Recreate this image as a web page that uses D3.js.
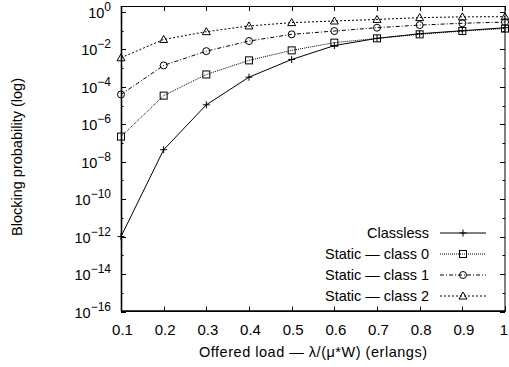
<!DOCTYPE html>
<html>
<head>
<meta charset="utf-8">
<script src="https://cdn.jsdelivr.net/npm/d3@7"></script>
<style>
  body { margin: 0; background: #fff; }
  svg { display: block; font-family: "Liberation Sans", Arial, Helvetica, sans-serif; }
</style>
</head>
<body>
<div id="chart"></div>
<script>
// Blocking probability vs offered load (log scale)

const loads = [0.1, 0.2, 0.3, 0.4, 0.5, 0.6, 0.7, 0.8, 0.9, 1.0];
const classless = [1e-12, 4.4e-8, 1.1e-5, 3.3e-4, 2.9e-3, 0.016, 0.039, 0.069, 0.10, 0.145];
const staticClass0 = [2.2e-7, 3.4e-5, 4.6e-4, 2.6e-3, 8.9e-3, 0.023, 0.039, 0.064, 0.096, 0.13];
const staticClass1 = [3.9e-5, 1.4e-3, 8.1e-3, 0.028, 0.064, 0.096, 0.145, 0.2, 0.25, 0.29];
const staticClass2 = [3.6e-3, 0.034, 0.089, 0.18, 0.27, 0.33, 0.4, 0.5, 0.55, 0.56];
const xTicks = [0.1, 0.2, 0.3, 0.4, 0.5, 0.6, 0.7, 0.8, 0.9, 1];
const yTickExps = [0, -2, -4, -6, -8, -10, -12, -14, -16];

const seriesList = [
    { name: 'Static \u2014 class 0', values: staticClass0, dash: '1,1', marker: 'square' },
    { name: 'Static \u2014 class 1', values: staticClass1, dash: '4,2,1,2', marker: 'circle' },
    { name: 'Static \u2014 class 2', values: staticClass2, dash: '2,2', marker: 'triangle' }
];
seriesList.unshift({ name: 'Classless', values: classless, dash: null, marker: 'plus' });

const W = 509, H = 367;
const margin = { top: 6, right: 4, bottom: 55.5, left: 121 };
const width = W - margin.left - margin.right;
const height = H - margin.top - margin.bottom;

const svg = d3.select('#chart').append('svg')
    .attr('width', W)
    .attr('height', H);

const g = svg.append('g')
    .attr('transform', `translate(${margin.left},${margin.top})`);

const xScale = d3.scaleLinear().domain([0.1, 1]).range([0, width]);
const yScale = d3.scaleLog().domain([1e-16, Math.pow(10, 0.32)]).range([height, 0]);

// Frame
g.append('rect')
    .attr('x', 0.5).attr('y', 0.5)
    .attr('width', width - 0.5).attr('height', height - 0.5)
    .attr('fill', 'none')
    .attr('stroke', '#000')
    .attr('stroke-width', 1);
g.append('line')
    .attr('x1', 0.5).attr('x2', 0.5).attr('y1', 0).attr('y2', height)
    .attr('stroke', '#000').attr('stroke-width', 1.6);
g.append('line')
    .attr('x1', 0).attr('x2', width).attr('y1', height - 0.5).attr('y2', height - 0.5)
    .attr('stroke', '#000').attr('stroke-width', 1.6);

// Ticks (inward, mirrored)
const majorLen = 5, minorLen = 2.5;
xTicks.forEach(t => {
    const x = Math.round(xScale(t)) + 0.5;
    g.append('line').attr('x1', x).attr('x2', x).attr('y1', height).attr('y2', height - majorLen)
        .attr('stroke', '#000');
    g.append('line').attr('x1', x).attr('x2', x).attr('y1', 0).attr('y2', majorLen)
        .attr('stroke', '#000');
});
for (let e = -16; e <= 0; e++) {
    const y = Math.round(yScale(Math.pow(10, e))) + 0.5;
    const len = (e % 2 === 0) ? majorLen : minorLen;
    g.append('line').attr('x1', 0).attr('x2', len).attr('y1', y).attr('y2', y).attr('stroke', '#000');
    g.append('line').attr('x1', width).attr('x2', width - len).attr('y1', y).attr('y2', y).attr('stroke', '#000');
}

// X tick labels (the last one sits against the right edge)
g.selectAll('.xlab')
    .data(xTicks)
    .enter().append('text')
    .attr('class', 'xlab')
    .attr('x', d => d === 1 ? xScale(d) + 3 : xScale(d) + 1.5)
    .attr('y', height + 23)
    .attr('text-anchor', d => d === 1 ? 'end' : 'middle')
    .style('font-size', '15px')
    .attr('fill', '#000')
    .text(d => d === 1 ? '1' : d3.format('.1f')(d));

// Y tick labels: 10^e
const ylab = g.selectAll('.ylab')
    .data(yTickExps)
    .enter().append('text')
    .attr('class', 'ylab')
    .attr('x', -10)
    .attr('y', d => yScale(Math.pow(10, d)) + 6)
    .attr('text-anchor', 'end')
    .attr('fill', '#000')
    .style('font-size', '14.5px');
ylab.append('tspan').text('10');
ylab.append('tspan')
    .attr('dy', -7)
    .style('font-size', '12px')
    .text(d => d === 0 ? '0' : '\u2212' + Math.abs(d));

// Axis titles
svg.append('text')
    .attr('x', margin.left + width / 2)
    .attr('y', 357)
    .attr('text-anchor', 'middle')
    .attr('textLength', 228)
    .style('font-size', '14.5px')
    .text('Offered load \u2014 \u03bb/(\u03bc*W) (erlangs)');

svg.append('text')
    .attr('transform', `translate(22,157) rotate(-90)`)
    .attr('text-anchor', 'middle')
    .style('font-size', '14.5px')
    .text('Blocking probability (log)');

// Markers
function drawMarker(sel, type, x, y) {
    const s = 3.5;
    if (type === 'plus') {
        sel.append('path').attr('d', `M${x - s},${y}H${x + s}M${x},${y - s}V${y + s}`)
            .attr('stroke', '#000').attr('fill', 'none');
    } else if (type === 'square') {
        sel.append('rect').attr('x', x - s).attr('y', y - s).attr('width', 2 * s).attr('height', 2 * s)
            .attr('stroke', '#000').attr('fill', 'none');
    } else if (type === 'circle') {
        sel.append('circle').attr('cx', x).attr('cy', y).attr('r', s)
            .attr('stroke', '#000').attr('fill', 'none');
    } else if (type === 'triangle') {
        sel.append('path').attr('d', `M${x},${y - s - 0.5}L${x + s + 0.5},${y + s - 0.5}L${x - s - 0.5},${y + s - 0.5}Z`)
            .attr('stroke', '#000').attr('fill', 'none');
    }
}

const line = d3.line()
    .x(d => xScale(d[0]))
    .y(d => yScale(d[1]));

const plot = g.append('g');
seriesList.forEach(s => {
    const pts = loads.map((l, i) => [l, s.values[i]]);
    plot.append('path')
        .datum(pts)
        .attr('d', line)
        .attr('fill', 'none')
        .attr('stroke', '#000')
        .attr('stroke-width', 1)
        .attr('stroke-dasharray', s.dash);
    pts.forEach(p => drawMarker(plot, s.marker, xScale(p[0]), yScale(p[1])));
});

// Legend
const legend = svg.append('g');
const legendY = [233, 254, 275, 296];
seriesList.forEach((s, i) => {
    const y = legendY[i];
    legend.append('text')
        .attr('x', 429)
        .attr('y', y + 5)
        .attr('text-anchor', 'end')
        .style('font-size', '14.5px')
        .text(s.name);
    legend.append('line')
        .attr('x1', 440).attr('x2', 486).attr('y1', y).attr('y2', y)
        .attr('stroke', '#000')
        .attr('stroke-dasharray', s.dash);
    drawMarker(legend, s.marker, 463, y);
});
</script>
</body>
</html>
